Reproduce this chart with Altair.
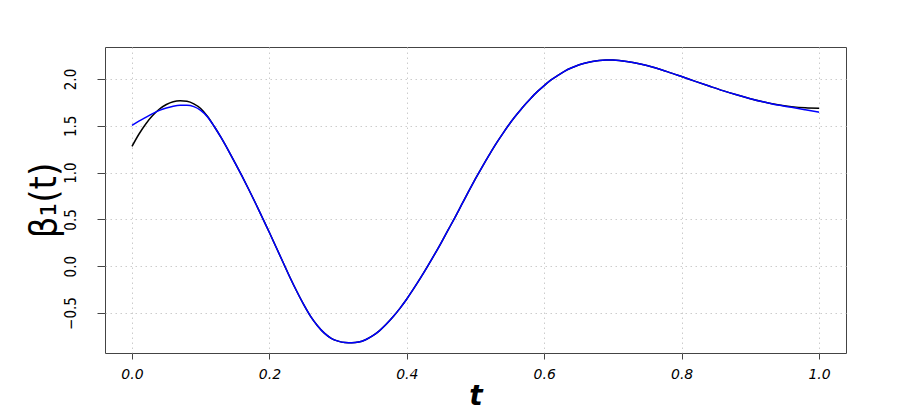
import altair as alt
import pandas as pd

t_vals = [0.00, 0.01, 0.02, 0.03, 0.04, 0.05, 0.06, 0.07, 0.08, 0.09,
          0.10, 0.11, 0.12, 0.13, 0.14, 0.15, 0.16, 0.17, 0.18, 0.19,
          0.20, 0.21, 0.22, 0.23, 0.24, 0.25, 0.26, 0.27, 0.28, 0.29,
          0.30, 0.31, 0.32, 0.33, 0.34, 0.35, 0.36, 0.37, 0.38, 0.39,
          0.40, 0.41, 0.42, 0.43, 0.44, 0.45, 0.46, 0.47, 0.48, 0.49,
          0.50, 0.51, 0.52, 0.53, 0.54, 0.55, 0.56, 0.57, 0.58, 0.59,
          0.60, 0.61, 0.62, 0.63, 0.64, 0.65, 0.66, 0.67, 0.68, 0.69,
          0.70, 0.72, 0.74, 0.76, 0.78, 0.80, 0.82, 0.84, 0.86, 0.88,
          0.90, 0.92, 0.94, 0.96, 0.98, 1.00]

beta_true = [1.280, 1.410, 1.520, 1.610, 1.680, 1.728, 1.758, 1.768, 1.762, 1.735,
             1.685, 1.600, 1.490, 1.370, 1.240, 1.105, 0.965, 0.820, 0.670, 0.515,
             0.360, 0.200, 0.040, -0.120, -0.270, -0.410, -0.535, -0.635, -0.715, -0.770,
             -0.800, -0.815, -0.818, -0.810, -0.785, -0.745, -0.690, -0.620, -0.540, -0.450,
             -0.350, -0.240, -0.125, -0.005, 0.120, 0.250, 0.385, 0.520, 0.660, 0.800,
             0.935, 1.065, 1.190, 1.310, 1.420, 1.525, 1.620, 1.710, 1.790, 1.865,
             1.930, 1.990, 2.040, 2.085, 2.120, 2.150, 2.172, 2.188, 2.198, 2.203,
             2.202, 2.188, 2.160, 2.122, 2.076, 2.026, 1.975, 1.925, 1.876, 1.831,
             1.790, 1.755, 1.725, 1.705, 1.692, 1.687]

beta_est = [1.505, 1.550, 1.590, 1.630, 1.665, 1.690, 1.710, 1.720, 1.720, 1.705,
            1.665, 1.595, 1.490, 1.370, 1.240, 1.105, 0.965, 0.820, 0.670, 0.515,
            0.360, 0.200, 0.040, -0.120, -0.270, -0.410, -0.535, -0.635, -0.715, -0.770,
            -0.800, -0.815, -0.818, -0.810, -0.785, -0.745, -0.690, -0.620, -0.540, -0.450,
            -0.350, -0.240, -0.125, -0.005, 0.120, 0.250, 0.385, 0.520, 0.660, 0.800,
            0.935, 1.065, 1.190, 1.310, 1.420, 1.525, 1.620, 1.710, 1.790, 1.865,
            1.930, 1.990, 2.040, 2.085, 2.120, 2.150, 2.172, 2.188, 2.198, 2.203,
            2.202, 2.188, 2.160, 2.122, 2.076, 2.026, 1.975, 1.925, 1.876, 1.831,
            1.790, 1.755, 1.722, 1.698, 1.672, 1.645]

x_ticks = [0.0, 0.2, 0.4, 0.6, 0.8, 1.0]
y_ticks = [-0.5, 0.0, 0.5, 1.0, 1.5, 2.0]

df = pd.DataFrame({"t": t_vals, "true": beta_true, "est": beta_est})

narrow = "DejaVu Sans Condensed, Liberation Sans Narrow, Liberation Sans, sans-serif"

x_enc = alt.X(
    "t:Q",
    scale=alt.Scale(domain=[-0.0393, 1.0393], nice=False, zero=False),
    axis=alt.Axis(
        values=x_ticks, format=".1f", domain=False,
        grid=True, gridColor="#cccccc", gridDash=[1.5, 3.5], gridWidth=1,
        tickSize=6, tickColor="#444444", tickWidth=1,
        labelFont="DejaVu Sans", labelFontStyle="italic", labelFontSize=14,
        labelColor="black", labelPadding=8,
        title="t", titleFont="DejaVu Sans", titleFontStyle="italic",
        titleFontWeight="bold", titleFontSize=28, titleColor="black",
        titleY=51, titleBaseline="alphabetic",
    ),
)

y_axis = alt.Axis(
    values=y_ticks, format=".1f", domain=False,
    grid=True, gridColor="#cccccc", gridDash=[1.5, 3.5], gridWidth=1,
    tickSize=8, tickColor="#444444", tickWidth=1,
    labelFont=narrow, labelFontSize=15, labelColor="black",
    labelAngle=270, labelAlign="center", labelBaseline="alphabetic",
    labelPadding=22,
    title="β₁(t)", titleFont=narrow, titleFontSize=38,
    titleColor="black", titleFontWeight="normal",
    titleAngle=270, titleAlign="center", titleBaseline="alphabetic",
    titleX=-50, titleY=153,
)

black_line = alt.Chart(df).mark_line(
    color="black", strokeWidth=1.5, interpolate="monotone"
).encode(
    x=x_enc,
    y=alt.Y("true:Q", scale=alt.Scale(domain=[-0.927, 2.342], nice=False, zero=False),
            axis=y_axis),
)

blue_line = alt.Chart(df).mark_line(
    color="#0000ff", strokeWidth=1.5, interpolate="monotone"
).encode(
    x=alt.X("t:Q"),
    y=alt.Y("est:Q"),
)

chart = alt.layer(black_line, blue_line).properties(
    width=741, height=306,
    autosize=alt.AutoSizeParams(type="none"),
    padding={"left": 97, "top": 39, "right": 40, "bottom": 60},
).configure_view(stroke="#444444", strokeWidth=1)

chart.save("out.html", embed_options={"renderer": "svg", "actions": False})
